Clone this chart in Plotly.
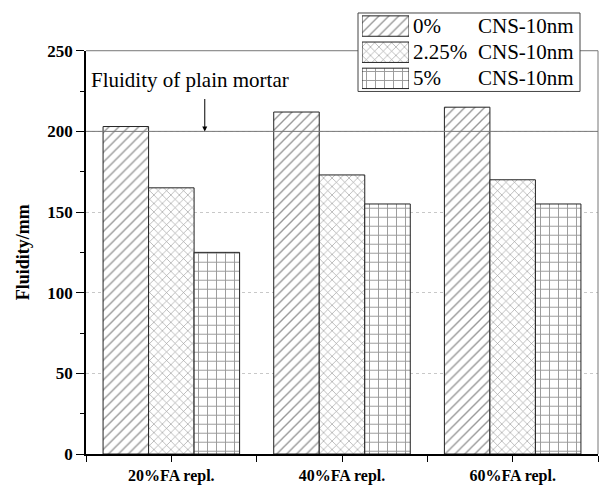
import plotly.graph_objects as go

categories = ["20%FA repl.", "40%FA repl.", "60%FA repl."]
series_names = ["0%", "2.25%", "5%"]
series_suffix = "CNS-10nm"
values_0 = [203, 212, 215]
values_225 = [165, 173, 170]
values_5 = [125, 155, 155]
plain_mortar = 200

series_values = [values_0, values_225, values_5]
patterns = ["/", "x", "+"]
pattern_sizes = [7, 6, 9]

FONT = "Liberation Serif"
xpos = list(range(len(categories)))

# layout geometry (pixels)
W, H = 600, 487
ML, MR, MT, MB = 86, 2, 10, 31
plot_h = H - MT - MB
def py(pix):  # pixel row -> paper y
    return (H - MB - pix) / plot_h
def px(pix):  # pixel column -> paper x
    return (pix - ML) / (W - ML - MR)

main_top = py(50)

def marker_for(pat, ps):
    return dict(color="white", line=dict(color="#222", width=1),
                pattern=dict(shape=pat, size=ps, solidity=0.2, fgcolor="#333", bgcolor="white"))

fig = go.Figure()
for name, vals, pat, ps in zip(series_names, series_values, patterns, pattern_sizes):
    fig.add_trace(go.Bar(
        x=xpos, y=vals, name=name, showlegend=False,
        marker=marker_for(pat, ps), xaxis="x", yaxis="y",
    ))

# custom legend swatches (key boxes)
legend_rows = list(range(len(series_names)))[::-1]
for name, pat, ps, row in zip(series_names, patterns, pattern_sizes, legend_rows):
    fig.add_trace(go.Bar(
        x=[1], y=[row], orientation="h", width=0.78, showlegend=False, hoverinfo="skip",
        marker=marker_for(pat, ps), xaxis="x2", yaxis="y2",
    ))

fig.update_layout(
    width=W, height=H,
    margin=dict(l=ML, r=MR, t=MT, b=MB),
    plot_bgcolor="rgba(0,0,0,0)", paper_bgcolor="white",
    barmode="group", bargap=0.2, bargroupgap=0,
    font=dict(family=FONT, color="black"),
    showlegend=False,
    xaxis=dict(range=[-0.5, 2.5], tickmode="array", tickvals=xpos, ticktext=categories,
               domain=[0, 1],
               showline=True, linecolor="black", linewidth=1.5,
               ticks="outside", ticklen=6, tickcolor="black",
               tickfont=dict(family=FONT, size=16, weight="bold"),
               minor=dict(tickvals=[-0.5, 0.5, 1.5, 2.5], ticks="outside", ticklen=6, tickcolor="black"),
               showgrid=False, zeroline=False),
    yaxis=dict(range=[0, 250], tickvals=[0, 50, 100, 150, 200, 250], domain=[0, main_top],
               showline=True, linecolor="black", linewidth=1.5,
               ticks="outside", ticklen=8, tickcolor="black",
               tickfont=dict(family=FONT, size=17, weight="bold"),
               minor=dict(dtick=25, ticks="outside", ticklen=4, tickcolor="black", showgrid=False),
               showgrid=True, gridcolor="#c8c8c8", griddash="dot", gridwidth=1,
               zeroline=False,
               title=dict(text="Fluidity/mm", font=dict(family=FONT, size=18, weight="bold"), standoff=13)),
    xaxis2=dict(domain=[px(362), px(409)], range=[0, 1], anchor="y2", visible=False, fixedrange=True),
    yaxis2=dict(domain=[py(91), py(12)], range=[-0.5, 2.5], anchor="x2", visible=False, fixedrange=True),
)

# plain mortar reference line and frame
fig.add_hline(y=plain_mortar, line=dict(color="#777", width=1))
fig.add_shape(type="line", xref="paper", yref="paper", x0=0, x1=px(358), y0=main_top, y1=main_top,
              line=dict(color="#777", width=1))
fig.add_shape(type="line", xref="paper", yref="paper", x0=px(580), x1=1, y0=main_top, y1=main_top,
              line=dict(color="#777", width=1))
fig.add_shape(type="line", xref="paper", yref="paper", x0=1, x1=1, y0=0, y1=main_top,
              line=dict(color="#777", width=1))
# legend box
fig.add_shape(type="rect", xref="paper", yref="paper", x0=px(358), x1=px(580), y0=py(91), y1=py(12),
              line=dict(color="#444", width=1), fillcolor="rgba(0,0,0,0)")

for name, row in zip(series_names, legend_rows):
    fig.add_annotation(x=px(411), y=row, xref="paper", yref="y2", text=name, showarrow=False,
                       xanchor="left", yanchor="middle", font=dict(family=FONT, size=21))
    fig.add_annotation(x=px(476), y=row, xref="paper", yref="y2", text=series_suffix, showarrow=False,
                       xanchor="left", yanchor="middle", font=dict(family=FONT, size=21))

fig.add_annotation(x=-0.48, y=232, xref="x", yref="y", text="Fluidity of plain mortar",
                   showarrow=False, xanchor="left", yanchor="middle",
                   font=dict(family=FONT, size=21))
fig.add_annotation(x=0.196, y=plain_mortar, ax=0.196, ay=221, xref="x", yref="y",
                   axref="x", ayref="y", text="", showarrow=True,
                   arrowhead=2, arrowsize=1, arrowwidth=1, arrowcolor="black")

fig.write_html("out.html")
